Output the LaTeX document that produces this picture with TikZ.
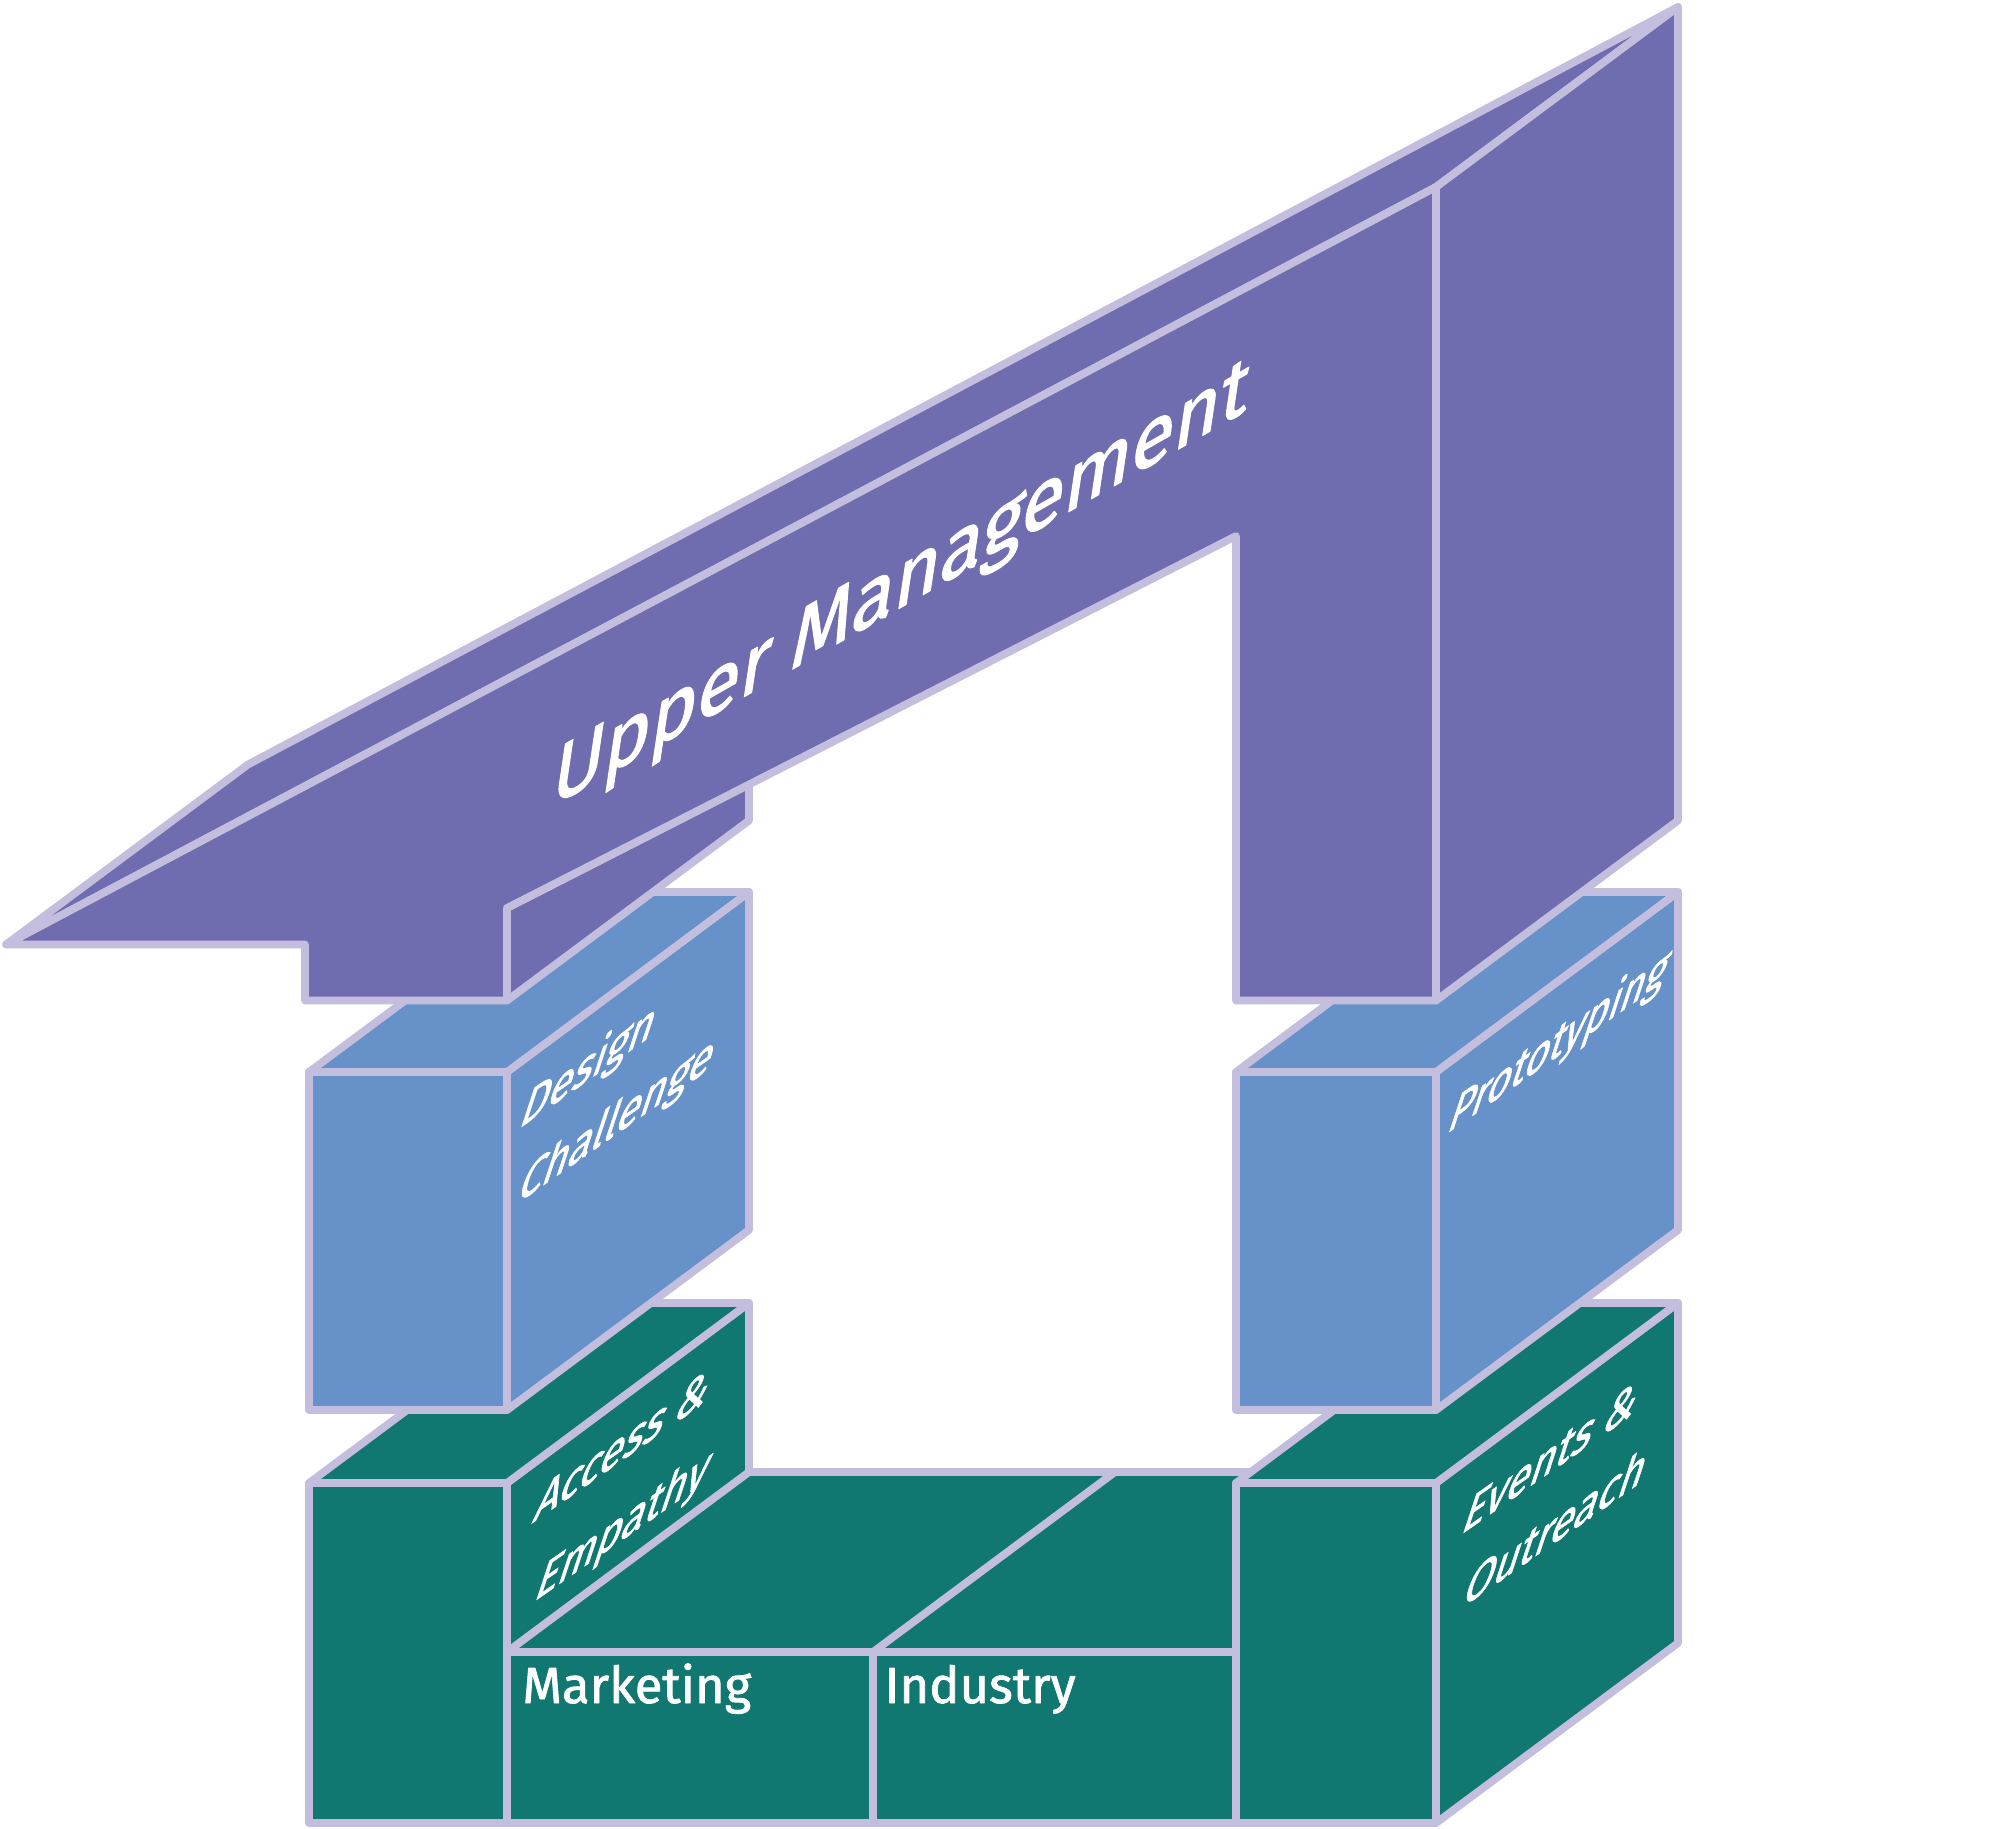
\documentclass[tikz,border=0pt]{standalone}
\usepackage{fontspec}
\setmainfont{Fira Sans}[FakeBold=1.5,AutoFakeBold=1.5]
\definecolor{purp}{RGB}{111,109,176}
\definecolor{bluec}{RGB}{103,145,201}
\definecolor{tealc}{RGB}{16,120,112}
\definecolor{edgec}{RGB}{196,190,222}
% name, x, y, a, b, c, fontsize, text
\newcommand{\slabel}[8]{%
  \begin{scope}[shift={(#2,#3)}, cm={#4,#5,#6,1,(0,0)}]
    \node[transform shape, anchor=base west, inner sep=0pt, text=white,
          font=\fontsize{#7}{#7}\selectfont\bfseries] (#1) at (0,0) {#8};
  \end{scope}}
% style, x1, x2, ytop, ybot
\newcommand{\blockbox}[5]{%
  \draw[#1] (#3,#4) -- (#3+242,#4-180) -- (#3+242,#5-180) -- (#3,#5) -- cycle;
  \draw[#1] (#2,#4) -- (#2+242,#4-180) -- (#3+242,#4-180) -- (#3,#4) -- cycle;
  \draw[#1] (#2,#4) rectangle (#3,#5);}
\begin{document}
\begin{tikzpicture}[x=0.4pt,y=-0.4pt, line join=round, line cap=round,
  face/.style={draw=edgec, line width=3.1pt},
  pur/.style={face, fill=purp},
  blu/.style={face, fill=bluec},
  grn/.style={face, fill=tealc},
  flatlabel/.style={anchor=base west, inner sep=0pt, text=white,
    font=\fontsize{20.3}{20.3}\selectfont\bfseries}]
\useasboundingbox (0,0) rectangle (1996,1829);

% green left box
\blockbox{grn}{309}{507}{1483}{1823}
% middle bar
\draw[grn] (507,1652) -- (1236,1652) -- (1478,1472) -- (749,1472) -- cycle;
\draw[grn] (507,1652) rectangle (873,1823);
\draw[grn] (873,1652) rectangle (1236,1823);
\draw[face] (873,1652) -- (1115,1472);
% green right box
\blockbox{grn}{1236}{1436}{1483}{1823}
% blue boxes
\blockbox{blu}{309}{507}{1072}{1410}
\blockbox{blu}{1236}{1436}{1072}{1410}

% purple arch
\draw[pur] (507,908) -- (749,784.5) -- (749,820.5) -- (507,1000.5) -- cycle;
\draw[pur] (6,944.5) -- (248,764.5) -- (1678,7) -- (1436,187) -- cycle;
\draw[pur] (1436,187) -- (1678,7) -- (1678,820.5) -- (1436,1000.5) -- cycle;
\draw[pur] (6,944.5) -- (1436,187) -- (1436,1000.5) -- (1236,1000.5) -- (1236,536)
  -- (507,908) -- (507,1000.5) -- (305,1000.5) -- (305,944.5) -- cycle;

% labels
\slabel{um}{549}{808}{0.90}{0.513}{0.15}{34.8}{Upper Management}
\slabel{design}{517}{1130}{0.77}{0.539}{0.33}{22.6}{Design}
\slabel{challenge}{515}{1205}{0.77}{0.539}{0.33}{22.6}{Challenge}
\slabel{proto}{1445}{1135}{0.73}{0.511}{0.33}{22.6}{Prototyping}
\slabel{access}{531}{1524}{0.77}{0.539}{0.33}{22.6}{Access \&}
\slabel{empathy}{532}{1603}{0.77}{0.539}{0.33}{22.6}{Empathy}
\slabel{events}{1459}{1536}{0.77}{0.539}{0.33}{22.6}{Events \&}
\slabel{outreach}{1460}{1609}{0.77}{0.539}{0.33}{22.6}{Outreach}
\node[flatlabel] (marketing) at (522,1703) {Marketing};
\node[flatlabel] (industry) at (884,1703) {Industry};
\end{tikzpicture}
\end{document}
